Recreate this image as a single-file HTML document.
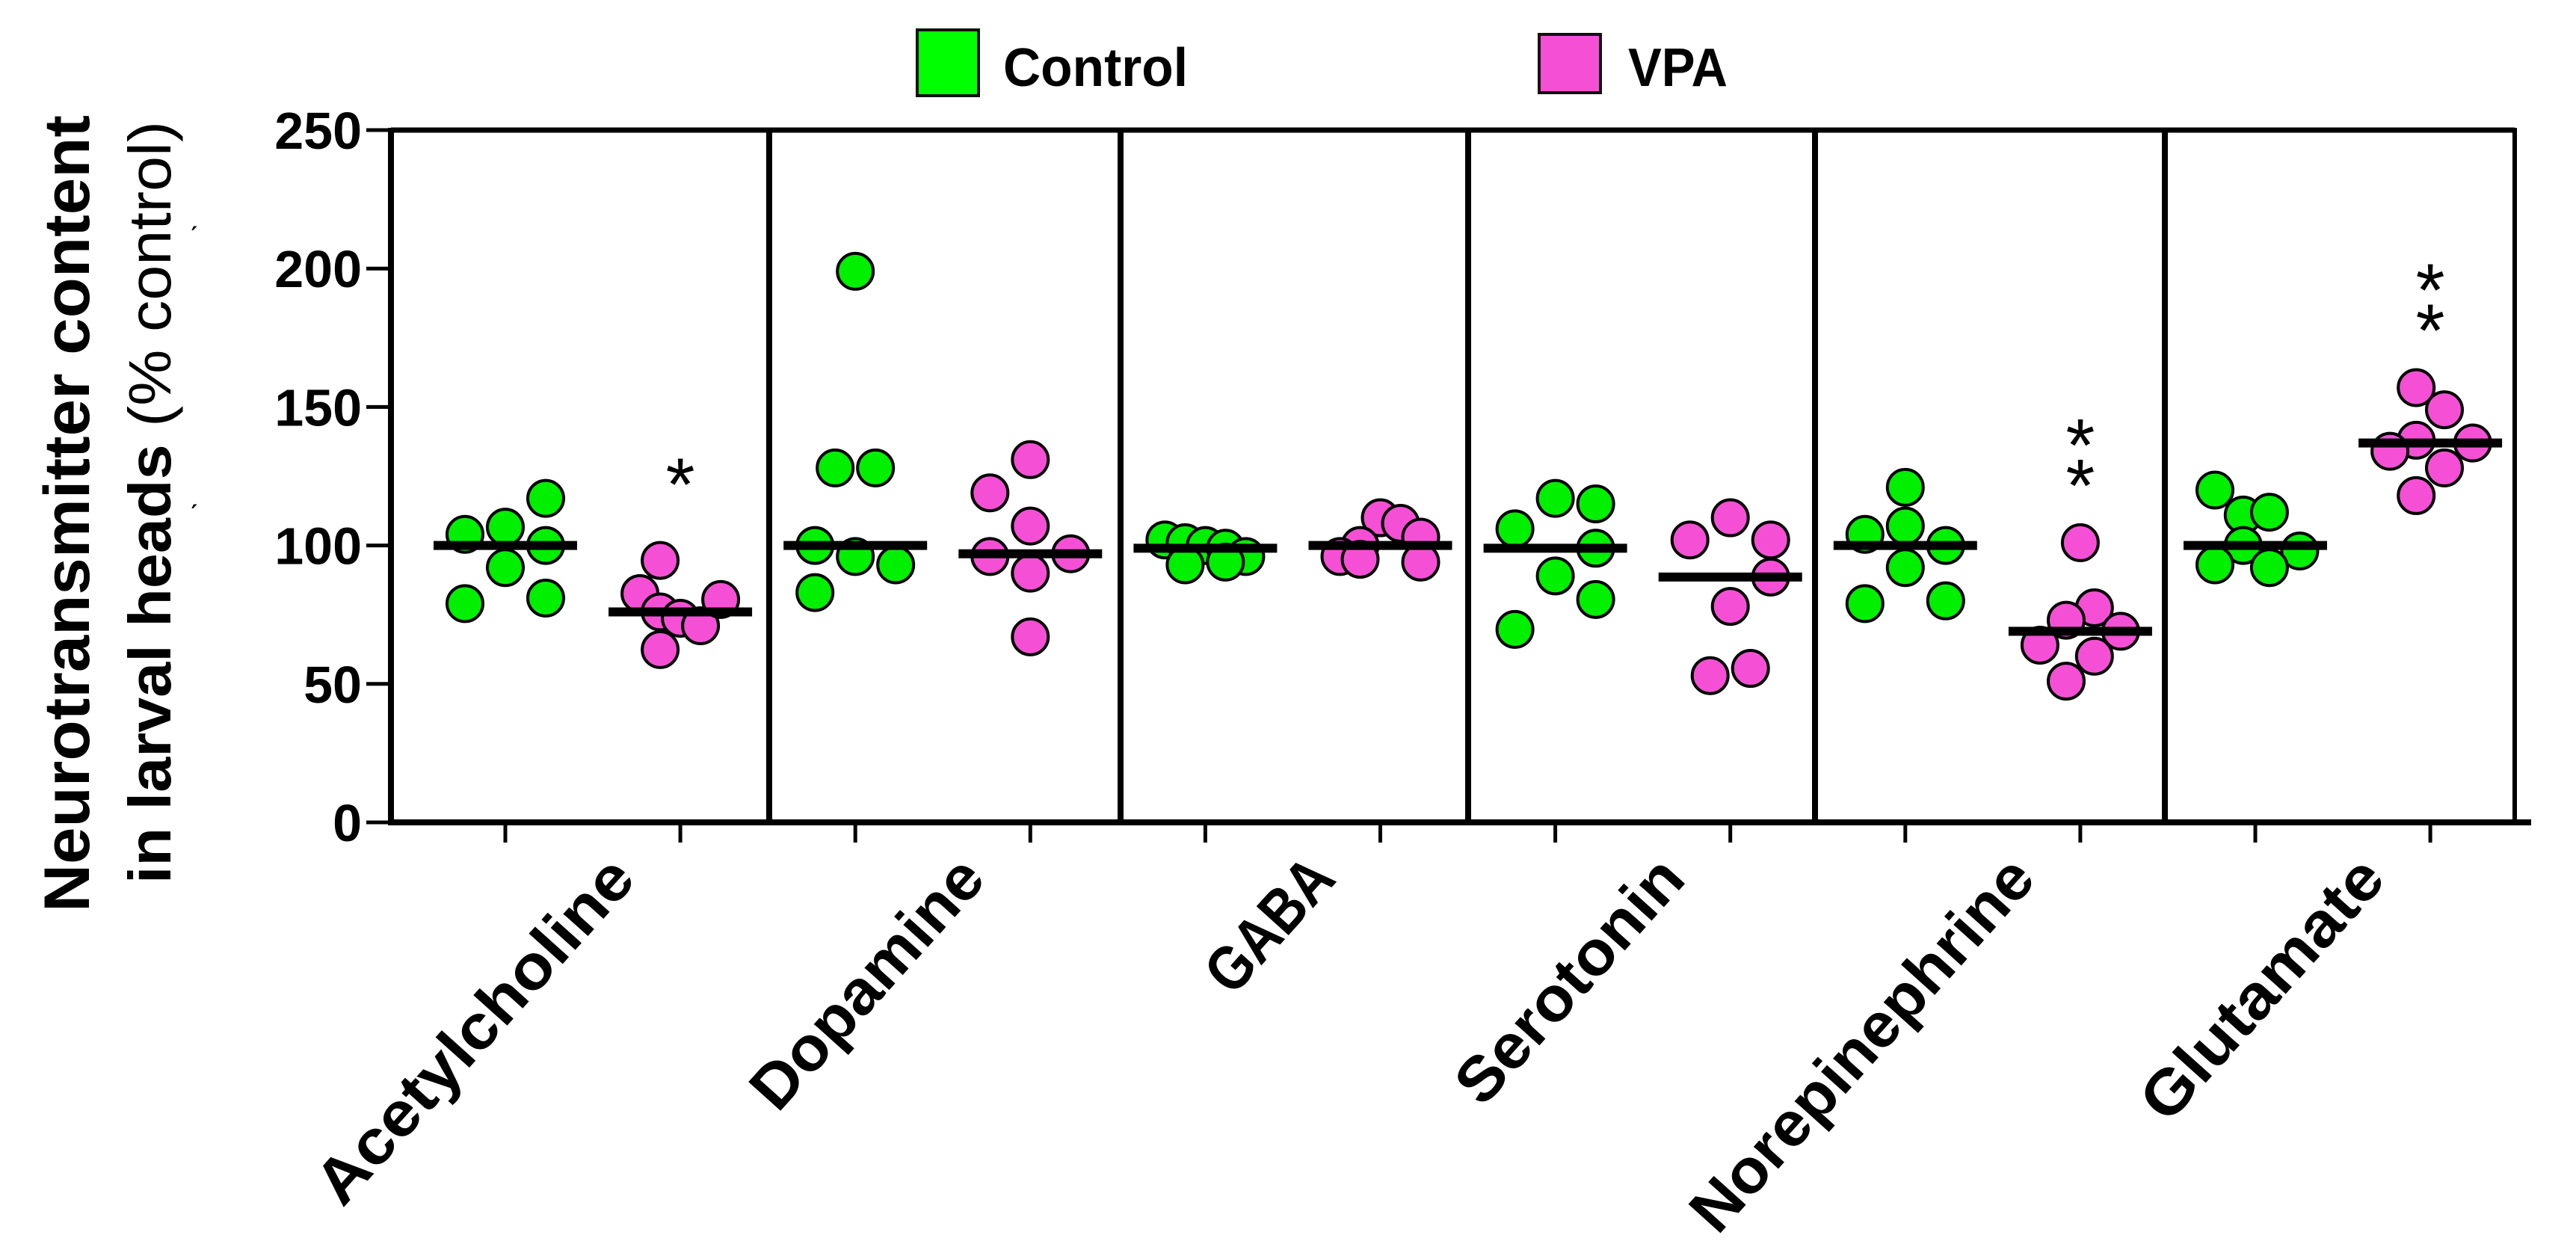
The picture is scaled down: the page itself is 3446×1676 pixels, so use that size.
<!DOCTYPE html>
<html><head><meta charset="utf-8"><style>
html,body{margin:0;padding:0;background:#fff;}
svg{display:block;font-family:"Liberation Sans",sans-serif;}
</style></head><body>
<svg id="chart" width="3446" height="1676" viewBox="0 0 3446 1676" xmlns="http://www.w3.org/2000/svg">
<rect width="3446" height="1676" fill="#fff"/>
<g id="legend">
 <g>
  <rect x="1227" y="40" width="82" height="88" fill="#00ff00" stroke="#111" stroke-width="4"/>
  <text x="1342" y="115" font-size="72" font-weight="bold" textLength="247" lengthAdjust="spacingAndGlyphs">Control</text>
 </g>
 <g>
  <rect x="2059" y="46" width="82" height="78" fill="#f550d5" stroke="#111" stroke-width="4"/>
  <text x="2178" y="115" font-size="72" font-weight="bold" textLength="133" lengthAdjust="spacingAndGlyphs">VPA</text>
 </g>
</g>
<g>
 <text transform="translate(119,687) rotate(-90)" text-anchor="middle" font-size="86" font-weight="bold" textLength="1066" lengthAdjust="spacingAndGlyphs">Neurotransmitter content</text>
 <text transform="translate(228,672) rotate(-90)" text-anchor="middle" font-size="80" textLength="1020" lengthAdjust="spacingAndGlyphs"><tspan font-weight="bold">in larval heads</tspan> (% control)</text>
 <text x="252" y="300" font-size="40">ˏ</text>
 <text x="252" y="672" font-size="40">ˏ</text>
</g>
<g id="frame"></g>
<g id="yaxis"></g>
<g id="xaxis"></g>
<g id="marks"></g>
</svg>
<script>
const categories = ['Acetylcholine','Dopamine','GABA','Serotonin','Norepinephrine','Glutamate'];
const controlValues = [
 [104,106.6,117,92,100,79,81],
 [199,128,128,100,96,93,83],
 [102,101,100,99,96,93,94],
 [106,117,115,99,89,80.5,69.7],
 [121,104,107,100,92,79,80],
 [120,111,112,100,98,93,92]
];
const vpaValues = [
 [94.6,82.6,76,73.7,71,80.5,62.4],
 [131,119,107,97,96,90,67],
 [110,108,103,100,96,94,95],
 [110,102,102,88.6,78,55.6,53],
 [101,77.5,73,69,64,60,51],
 [157,149,138,137,134,128,118]
];
const controlJitter = [
 [-2,0,2,0,2,-2,2],[0,-1,1,-2,0,2,-2],[-2,-1,0,1,2,-1,1],
 [-2,0,2,2,0,2,-2],[0,-2,0,2,0,-2,2],[-2,-0.6,0.7,-0.6,2.2,-2,0.7]
];
const vpaJitter = [
 [-1,-2,-1,0,1,2,-1],[0,-2,0,2,-2,0,0],[0,1,2,-1,-2,2,-1],
 [0,-2,2,2,0,1,-1],[0,0.7,-0.7,2,-2,0.7,-0.7],[-0.7,0.7,-0.7,2.1,-2,0.7,-0.7]
];
const significance = ['*','','','','**','**'];
const yTicks = [0,50,100,150,200,250];
const labelLengths = [590,420,210,410,640,440];

const NS='http://www.w3.org/2000/svg';
const Y0=1100, PX_PER=3.704, X0=676, STEP=234.1, SLOT=27;
const yScale=v=>Y0-v*PX_PER;
const xScale=i=>X0+i*STEP;
function mk(tag,attrs,parent){const e=document.createElementNS(NS,tag);for(const k in attrs)e.setAttribute(k,attrs[k]);parent.appendChild(e);return e;}
function median(a){const s=[...a].sort((x,y)=>x-y);const m=Math.floor(s.length/2);return s.length%2?s[m]:(s[m-1]+s[m])/2;}

const frame=document.getElementById('frame');
const yTop=yScale(250);
let l;
l=mk('line',{x1:523,y1:yTop,x2:3364,y2:yTop,stroke:'#000','stroke-width':7},frame);


const dividers=[1029,1499,1964,2428,2896,3364];
dividers.forEach((x,i)=>{
 const d=mk('line',{x1:x,y1:yTop-3,x2:x,y2:Y0,stroke:'#000','stroke-width':i===5?6:8},frame);
 
 
});
l=mk('line',{x1:523,y1:yTop-3,x2:523,y2:Y0+4,stroke:'#000','stroke-width':8},frame);


l=mk('line',{x1:519,y1:Y0,x2:3386,y2:Y0,stroke:'#000','stroke-width':8},frame);



const yaxis=document.getElementById('yaxis');
yTicks.forEach(t=>{
 const tk=mk('line',{x1:490,y1:yScale(t),x2:523,y2:yScale(t),stroke:'#000','stroke-width':5},yaxis);
 
 
 const tx=mk('text',{x:484,y:yScale(t)+25,'text-anchor':'end','font-size':70,'font-weight':'bold'},yaxis);
 tx.textContent=String(t);
 
 
});

const xaxis=document.getElementById('xaxis');
categories.forEach((c,i)=>{
 [2*i,2*i+1].forEach(k=>{
  const tk=mk('line',{x1:xScale(k),y1:Y0,x2:xScale(k),y2:Y0+27,stroke:'#000','stroke-width':5},xaxis);
  
  
 });
 const cx=(xScale(2*i)+xScale(2*i+1))/2;
 const tx=mk('text',{transform:`translate(${cx+60},1178) rotate(-48)`,'text-anchor':'end','font-size':84,'font-weight':'bold',textLength:labelLengths[i],lengthAdjust:'spacingAndGlyphs'},xaxis);
 tx.textContent=c;
 
 
});

const marks=document.getElementById('marks');
function drawGroup(vals,jit,k,fill,name){
 const g=mk('g',{},marks);
 
 
 const cx=xScale(k);
 vals.forEach((v,j)=>{
  const c=mk('circle',{cx:cx+jit[j]*SLOT,cy:yScale(v),r:24,fill:fill,stroke:'#000','stroke-width':4},g);
  
  
 });
 const m=median(vals);
 const b=mk('rect',{x:cx-96,y:yScale(m)-6,width:192,height:12,fill:'#000'},g);
 
 
 return g;
}
categories.forEach((c,i)=>{
 drawGroup(controlValues[i],controlJitter[i],2*i,'#00f000','control-group-'+c.toLowerCase());
 drawGroup(vpaValues[i],vpaJitter[i],2*i+1,'#f550d5','vpa-group-'+c.toLowerCase());
 const s=significance[i];
 if(s){
  const top=yScale(Math.max(...vpaValues[i]));
  const n=s.length;
  for(let q=0;q<n;q++){
   const cy=top-(n===1?125:100)-(n-1-q)*54;
   const st=mk('text',{x:xScale(2*i+1),y:cy+58,'text-anchor':'middle','font-size':100},marks);
   st.textContent='*';
   
   
  }
 }
});
</script>
</body></html>
